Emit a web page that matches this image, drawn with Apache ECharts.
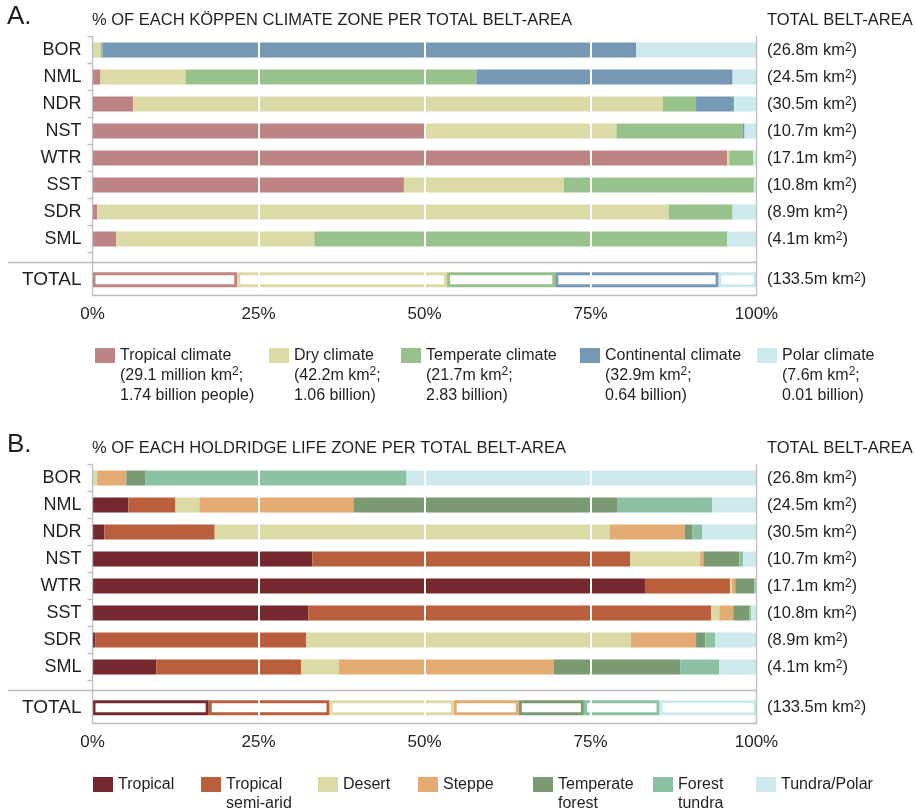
<!DOCTYPE html>
<html>
<head>
<meta charset="utf-8">
<script src="https://cdn.jsdelivr.net/npm/echarts@6/dist/echarts.min.js"></script>
<style>html,body{margin:0;padding:0;background:#fff}#c{width:916px;height:811px}</style>
</head>
<body>
<div id="c"></div>
<script>
// ---------- DATA ----------
const rowCategories = ['BOR', 'NML', 'NDR', 'NST', 'WTR', 'SST', 'SDR', 'SML'];
const totalCategory = ['TOTAL'];
const beltAreas = ['26.8', '24.5', '30.5', '10.7', '17.1', '10.8', '8.9', '4.1'];
const totalBeltArea = ['133.5'];
const xTickValues = [0, 25, 50, 75, 100];

// Panel A: Köppen climate zones (% of belt area)
const koppenNames = ['Tropical climate', 'Dry climate', 'Temperate climate', 'Continental climate', 'Polar climate'];
const koppenTropical    = [0,    1.2,  6.1,  50.0, 95.6, 46.9, 0.7,  3.6];
const koppenDry         = [1.2,  12.8, 79.8, 28.9, 0.3,  24.1, 86.1, 29.8];
const koppenTemperate   = [0.3,  43.8, 5.0,  19.0, 3.6,  28.6, 9.6,  62.2];
const koppenContinental = [80.4, 38.6, 5.7,  0.3,  0,    0,    0,    0];
const koppenPolar       = [18.1, 3.6,  3.3,  1.7,  0.5,  0.4,  3.5,  4.4];
const koppenTotal       = [21.8, 31.6, 16.3, 24.6, 5.7];
const koppenLegendLines = [
  ['Tropical climate', '(29.1 million km{s|2};', '1.74 billion people)'],
  ['Dry climate', '(42.2m km{s|2};', '1.06 billion)'],
  ['Temperate climate', '(21.7m km{s|2};', '2.83 billion)'],
  ['Continental climate', '(32.9m km{s|2};', '0.64 billion)'],
  ['Polar climate', '(7.6m km{s|2};', '0.01 billion)']
];

// Panel B: Holdridge life zones (% of belt area)
const holdNames = ['Tropical', 'Tropical semi-arid', 'Desert', 'Steppe', 'Temperate forest', 'Forest tundra', 'Tundra/Polar'];
const holdTropical     = [0,    5.4,  1.8,  33.1, 83.2, 32.5, 0.4,  9.6];
const holdSemiArid     = [0,    7.1,  16.6, 47.9, 12.8, 60.7, 31.8, 21.8];
const holdDesert       = [0.7,  3.6,  59.5, 10.5, 0.3,  1.2,  48.9, 5.7];
const holdSteppe       = [4.4,  23.2, 11.3, 0.5,  0.5,  2.1,  9.8,  32.4];
const holdTempForest   = [2.9,  39.8, 1.1,  5.4,  2.9,  2.4,  1.4,  19.0];
const holdForestTundra = [39.3, 14.2, 1.5,  0.6,  0.2,  0.3,  1.5,  5.9];
const holdTundra       = [52.7, 6.7,  8.2,  2.0,  0.1,  0.8,  6.2,  5.6];
const holdTotal        = [17.5, 18.2, 18.7, 9.8, 9.8, 11.4, 14.6];
const holdLegendLines = [
  ['Tropical'], ['Tropical', 'semi-arid'], ['Desert'], ['Steppe'],
  ['Temperate', 'forest'], ['Forest', 'tundra'], ['Tundra/Polar']
];

// ---------- STYLE ----------
const FONT = '"Liberation Sans", Arial, Helvetica, sans-serif';
const TXT = '#231f20';
const AXIS = '#bcbcbc';
const koppenColors = ['#be8484', '#dcdba8', '#97c28b', '#7599b5', '#cde9ee'];
const holdColors = ['#75292e', '#b95f3c', '#dcdba8', '#e4ac73', '#7a9a72', '#8cc2a3', '#cde9ee'];

const OFF_B = 428;
const GRID_LEFT = 92.5, GRID_RIGHT_X = 756.5;
const ROWS_TOP = 36.5, ROWS_H = 216, TOT_TOP = 264.5, TOT_H = 30.5, SEP_Y = 262.5;

function grids(off) {
  return [
    {left: GRID_LEFT, width: GRID_RIGHT_X - GRID_LEFT, top: ROWS_TOP + off, height: ROWS_H, containLabel: false},
    {left: GRID_LEFT, width: GRID_RIGHT_X - GRID_LEFT, top: TOT_TOP + off, height: TOT_H, containLabel: false}
  ];
}
function xAxes(gi) {
  const base = {
    type: 'value', min: xTickValues[0], max: xTickValues[xTickValues.length - 1],
    interval: xTickValues[1] - xTickValues[0], z: 3,
    splitLine: {show: true, showMinLine: false, showMaxLine: false, lineStyle: {color: '#ffffff', width: 2}},
    axisTick: {show: false}
  };
  return [
    Object.assign({}, base, {gridIndex: gi, axisLine: {show: false}, axisLabel: {show: false}}),
    Object.assign({}, base, {gridIndex: gi + 1, axisLine: {show: true, lineStyle: {color: AXIS, width: 1.3}},
      axisLabel: {show: true, formatter: '{value}%', fontSize: 17, fontFamily: FONT, color: TXT, margin: 11}})
  ];
}
const supRich = {s: {fontSize: 12, fontFamily: FONT, color: TXT, verticalAlign: 'top'}};
function yAxes(gi) {
  const left = (data, ticks) => ({
    type: 'category', gridIndex: gi, data, inverse: true, position: 'left', z: 3,
    axisLine: {show: true, lineStyle: {color: AXIS, width: 1.3}},
    axisTick: {show: ticks, length: 5, lineStyle: {color: AXIS, width: 1.3}},
    axisLabel: {fontSize: 18, fontFamily: FONT, color: TXT, margin: 11}
  });
  const right = (data) => ({
    type: 'category', gridIndex: gi, data, inverse: true, position: 'right', z: 3,
    axisLine: {show: true, lineStyle: {color: AXIS, width: 1.3}},
    axisTick: {show: false},
    axisLabel: {fontSize: 16.5, fontFamily: FONT, color: TXT, margin: 10.5, align: 'left',
      formatter: v => '(' + v + 'm km{s|2})', rich: supRich}
  });
  const a = left(rowCategories, true); const b = right(beltAreas);
  const c = left(totalCategory, false); const d = right(totalBeltArea);
  c.axisLabel = Object.assign({}, c.axisLabel, {fontSize: 19});
  c.gridIndex = gi + 1; d.gridIndex = gi + 1;
  return [a, b, c, d];
}
function barSeries(names, valuesList, colors, xIdx, yIdx) {
  return names.map((n, i) => ({
    type: 'bar', name: n, stack: 'stack' + xIdx, xAxisIndex: xIdx, yAxisIndex: yIdx,
    barWidth: 15, data: valuesList[i], itemStyle: {color: colors[i]}, silent: true
  }));
}
function totalSeries(values, colors, xIdx, yIdx) {
  let acc = 0;
  const data = values.map(v => { const d = [acc, acc + v, 0]; acc += v; return d; });
  return {
    type: 'custom', name: 'TOTAL-' + xIdx, xAxisIndex: xIdx, yAxisIndex: yIdx, data, silent: true,
    encode: {x: [0, 1], y: 2},
    renderItem: (params, api) => {
      const a = api.coord([api.value(0), 0]);
      const b = api.coord([api.value(1), 0]);
      const h = 15, lw = 3;
      return {
        type: 'rect',
        shape: {x: a[0] + lw / 2, y: a[1] - h / 2 + lw / 2, width: Math.max(0, b[0] - a[0] - lw), height: h - lw},
        style: {fill: '#ffffff', stroke: colors[params.dataIndex], lineWidth: lw}
      };
    }
  };
}
function legends(names, lines, lefts, iconCenterY, lh) {
  const iconH = 15;
  return names.map((n, i) => {
    const ls = lines[i];
    const padTop = (ls.length - 1) * lh;           // shifts first line onto the icon
    const blockH = ls.length * lh + padTop;
    return {
      data: [n], left: lefts[i], top: iconCenterY - Math.max(iconH, blockH) / 2, padding: 0,
      orient: 'horizontal', selectedMode: false, icon: 'rect', itemWidth: 20, itemHeight: iconH,
      formatter: () => ls.join('\n'),
      textStyle: {fontSize: 16, fontFamily: FONT, color: TXT, lineHeight: lh,
        padding: [padTop, 0, 0, 0], rich: supRich}
    };
  });
}
function titles(off, letter, sub) {
  const ts = (size) => ({fontSize: size, fontWeight: 'normal', fontFamily: FONT, color: TXT});
  return [
    {text: letter, left: 7, top: 4 + off, padding: 0, textStyle: ts(26)},
    {text: sub, left: 92, top: 12 + off, padding: 0, textStyle: ts(16.5)},
    {text: 'TOTAL BELT-AREA', left: 767, top: 12 + off, padding: 0, textStyle: ts(16.5)}
  ];
}
function decorations(off) {
  const ls = {stroke: AXIS, lineWidth: 1.3};
  return [
    {type: 'line', shape: {x1: 8, y1: SEP_Y + off, x2: GRID_RIGHT_X, y2: SEP_Y + off}, style: ls, silent: true},
    {type: 'line', shape: {x1: GRID_LEFT, y1: ROWS_TOP + ROWS_H + off, x2: GRID_LEFT, y2: TOT_TOP + off}, style: ls, silent: true},
    {type: 'line', shape: {x1: GRID_RIGHT_X, y1: ROWS_TOP + ROWS_H + off, x2: GRID_RIGHT_X, y2: TOT_TOP + off}, style: ls, silent: true}
  ];
}

const koppenValues = [koppenTropical, koppenDry, koppenTemperate, koppenContinental, koppenPolar];
const holdValues = [holdTropical, holdSemiArid, holdDesert, holdSteppe, holdTempForest, holdForestTundra, holdTundra];

const option = {
  animation: false,
  backgroundColor: '#ffffff',
  textStyle: {fontFamily: FONT},
  title: titles(0, 'A.', '% OF EACH KÖPPEN CLIMATE ZONE PER TOTAL BELT-AREA')
    .concat(titles(OFF_B, 'B.', '% OF EACH HOLDRIDGE LIFE ZONE PER TOTAL BELT-AREA')),
  grid: grids(0).concat(grids(OFF_B)),
  xAxis: xAxes(0).concat(xAxes(2)),
  yAxis: yAxes(0).concat(yAxes(2)),
  legend: legends(koppenNames, koppenLegendLines, [95, 269, 401, 580, 757], 355.5, 20)
    .concat(legends(holdNames, holdLegendLines, [93, 201, 318, 418, 533, 653, 756], 784.5, 19)),
  graphic: decorations(0).concat(decorations(OFF_B)),
  series: [].concat(
    barSeries(koppenNames, koppenValues, koppenColors, 0, 0),
    [totalSeries(koppenTotal, koppenColors, 1, 2)],
    barSeries(holdNames, holdValues, holdColors, 2, 4),
    [totalSeries(holdTotal, holdColors, 3, 6)]
  )
};
const chart = echarts.init(document.getElementById('c'), null, {renderer: 'canvas'});
chart.setOption(option);
</script>
</body>
</html>
